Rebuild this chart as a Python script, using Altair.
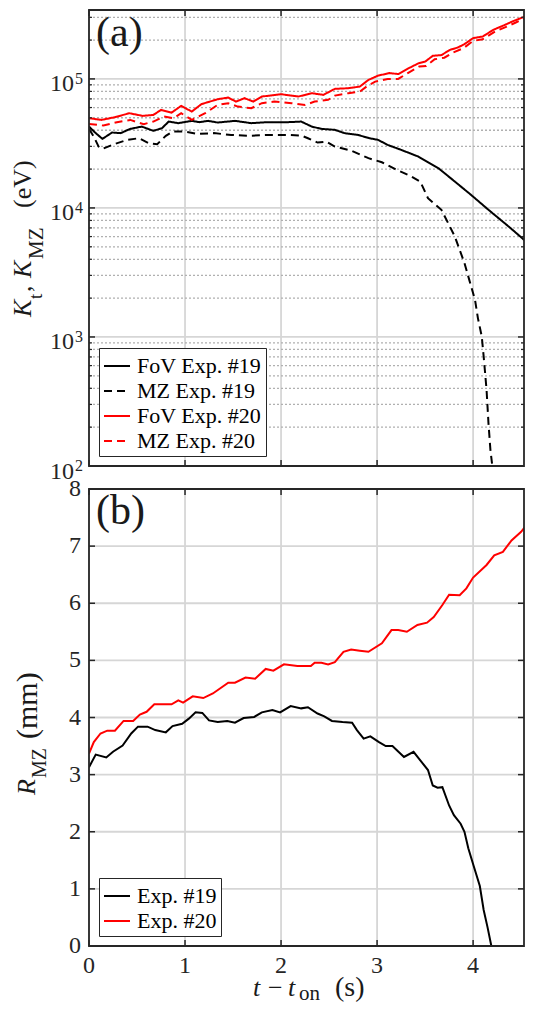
import altair as alt
import pandas as pd

SERIF = "Liberation Serif"
INK = "#262626"
GRID = "#d6d6d6"
MINOR = "#b0b0b0"

# ---------------- panel (a): K_t, K_MZ (eV) ----------------
series_a = ["FoV Exp. #19", "MZ Exp. #19", "FoV Exp. #20", "MZ Exp. #20"]
colors_a = ["#000000", "#000000", "#ff0000", "#ff0000"]
dash_a = [[1, 0], [8, 5], [1, 0], [8, 5]]

fov19_t = [0, 0.07, 0.14, 0.24, 0.33, 0.43, 0.55, 0.67, 0.76, 0.83,
           0.93, 1.07, 1.15, 1.24, 1.34, 1.52, 1.69, 1.86, 2.07, 2.21,
           2.32, 2.42, 2.56, 2.66, 2.80, 2.92, 3.01, 3.11, 3.25, 3.43,
           3.64, 3.81, 3.98, 4.16, 4.37, 4.51, 4.63]
fov19_k = [4.27e4, 3.80e4, 3.43e4, 3.84e4, 3.80e4, 4.10e4, 4.27e4, 3.96e4, 4.15e4, 4.67e4,
           4.54e4, 4.73e4, 4.62e4, 4.73e4, 4.59e4, 4.73e4, 4.54e4, 4.62e4, 4.62e4, 4.67e4,
           4.27e4, 4.10e4, 4.03e4, 3.80e4, 3.68e4, 3.47e4, 3.37e4, 3.08e4, 2.82e4, 2.50e4,
           2.03e4, 1.60e4, 1.26e4, 9.67e3, 7.18e3, 5.84e3, 4.80e3]

mz19_t = [0, 0.05, 0.10, 0.14, 0.26, 0.40, 0.52, 0.62, 0.71, 0.80,
          0.87, 0.99, 1.13, 1.30, 1.48, 1.65, 1.86, 2.07, 2.21, 2.28,
          2.38, 2.47, 2.56, 2.73, 2.91, 3.05, 3.19, 3.36, 3.45, 3.53,
          3.67, 3.74, 3.81, 3.91, 3.96, 4.02, 4.05, 4.09, 4.11, 4.14,
          4.16, 4.18, 4.20, 4.22]
mz19_k = [4.10e4, 3.57e4, 2.99e4, 2.87e4, 3.12e4, 3.37e4, 3.47e4, 3.18e4, 3.12e4, 3.62e4,
          3.91e4, 3.91e4, 3.75e4, 3.80e4, 3.68e4, 3.62e4, 3.68e4, 3.68e4, 3.64e4, 3.47e4,
          3.21e4, 3.27e4, 2.99e4, 2.78e4, 2.43e4, 2.26e4, 2.00e4, 1.75e4, 1.60e4, 1.19e4,
          9.67e3, 7.63e3, 6.00e3, 3.74e3, 2.77e3, 1.94e3, 1.40e3, 1.01e3, 706, 390,
          215, 134, 100, 70]

fov20_t = [0, 0.13, 0.27, 0.42, 0.56, 0.67, 0.75, 0.86, 0.96, 1.07,
           1.17, 1.34, 1.45, 1.53, 1.62, 1.71, 1.80, 2.00, 2.18, 2.32,
           2.44, 2.56, 2.70, 2.82, 2.91, 3.01, 3.13, 3.22, 3.32, 3.43,
           3.50, 3.58, 3.67, 3.76, 3.84, 3.91, 4.00, 4.10, 4.21, 4.33,
           4.43, 4.54, 4.63]
fov20_k = [4.96e4, 4.81e4, 5.05e4, 5.42e4, 5.17e4, 5.26e4, 5.75e4, 5.48e4, 6.18e4, 5.58e4,
           6.37e4, 6.96e4, 7.17e4, 6.67e4, 7.09e4, 6.67e4, 7.30e4, 7.61e4, 7.30e4, 7.75e4,
           7.52e4, 8.37e4, 8.47e4, 8.72e4, 9.82e4, 1.06e5, 1.11e5, 1.09e5, 1.20e5, 1.32e5,
           1.36e5, 1.51e5, 1.53e5, 1.68e5, 1.75e5, 1.86e5, 2.07e5, 2.13e5, 2.40e5, 2.62e5,
           2.83e5, 3.04e5, 3.42e5]

mz20_t = [0, 0.15, 0.29, 0.43, 0.57, 0.67, 0.78, 0.88, 0.96, 1.07,
          1.21, 1.34, 1.45, 1.55, 1.69, 1.80, 1.93, 2.11, 2.25, 2.35,
          2.49, 2.56, 2.70, 2.82, 2.89, 2.98, 3.11, 3.22, 3.32, 3.44,
          3.51, 3.60, 3.70, 3.79, 3.90, 4.00, 4.10, 4.23, 4.35, 4.45,
          4.56, 4.63]
mz20_k = [4.48e4, 4.35e4, 4.62e4, 4.81e4, 4.46e4, 4.67e4, 5.11e4, 4.96e4, 5.42e4, 4.81e4,
          5.42e4, 6.29e4, 6.48e4, 6.10e4, 5.93e4, 6.48e4, 6.67e4, 6.48e4, 6.29e4, 6.67e4,
          6.88e4, 7.42e4, 7.75e4, 7.97e4, 8.72e4, 9.53e4, 1.00e5, 1.00e5, 1.11e5, 1.25e5,
          1.26e5, 1.42e5, 1.46e5, 1.60e5, 1.73e5, 1.97e5, 2.03e5, 2.33e5, 2.54e5, 2.75e5,
          2.98e5, 3.32e5]

# ---------------- panel (b): R_MZ (mm) ----------------
series_b = ["Exp. #19", "Exp. #20"]
colors_b = ["#000000", "#ff0000"]

r19_t = [0, 0.07, 0.18, 0.25, 0.35, 0.44, 0.51, 0.61, 0.69, 0.80,
         0.87, 0.97, 1.04, 1.11, 1.18, 1.25, 1.34, 1.44, 1.52, 1.61,
         1.72, 1.80, 1.91, 1.99, 2.10, 2.21, 2.28, 2.38, 2.45, 2.53,
         2.64, 2.74, 2.79, 2.86, 2.93, 3.02, 3.09, 3.16, 3.28, 3.38,
         3.45, 3.53, 3.58, 3.63, 3.68, 3.75, 3.80, 3.87, 3.91, 3.95,
         4.01, 4.07, 4.11, 4.15, 4.19, 4.63]
r19_r = [3.13, 3.35, 3.30, 3.40, 3.51, 3.72, 3.84, 3.84, 3.78, 3.74,
         3.85, 3.89, 3.98, 4.09, 4.08, 3.95, 3.92, 3.94, 3.91, 3.99,
         4.01, 4.09, 4.13, 4.09, 4.20, 4.16, 4.18, 4.07, 4.02, 3.94,
         3.92, 3.91, 3.78, 3.63, 3.67, 3.57, 3.50, 3.50, 3.31, 3.40,
         3.25, 3.08, 2.81, 2.77, 2.78, 2.46, 2.29, 2.14, 2.00, 1.71,
         1.38, 1.05, 0.63, 0.33, 0.0, 0.0]

r20_t = [0, 0.05, 0.12, 0.19, 0.27, 0.36, 0.46, 0.53, 0.60, 0.68,
         0.86, 0.93, 0.98, 1.08, 1.19, 1.29, 1.45, 1.52, 1.63, 1.73,
         1.84, 1.92, 2.03, 2.17, 2.31, 2.35, 2.42, 2.49, 2.56, 2.65,
         2.73, 2.82, 2.91, 3.05, 3.15, 3.22, 3.31, 3.42, 3.52, 3.59,
         3.68, 3.75, 3.86, 3.93, 4.00, 4.14, 4.22, 4.31, 4.40, 4.50,
         4.57, 4.61, 4.63]
r20_r = [3.37, 3.57, 3.72, 3.77, 3.77, 3.94, 3.94, 4.05, 4.10, 4.23,
         4.23, 4.30, 4.26, 4.37, 4.34, 4.42, 4.61, 4.61, 4.70, 4.68,
         4.85, 4.82, 4.93, 4.90, 4.90, 4.96, 4.96, 4.93, 4.97, 5.15,
         5.19, 5.17, 5.15, 5.30, 5.53, 5.53, 5.50, 5.62, 5.66, 5.76,
         5.97, 6.15, 6.14, 6.26, 6.45, 6.67, 6.84, 6.90, 7.10, 7.25,
         7.40, 7.60, 7.80]

# ---------------- ticks and tick labels ----------------
x_ticks = [0, 1, 2, 3, 4]
x_labels = ["0", "1", "2", "3", "4"]
x_domain = [0, 4.53]
k_major = [1e2, 1e3, 1e4, 1e5]
k_exp = ["2", "3", "4", "5"]
k_minor = [2e2, 3e2, 4e2, 5e2, 6e2, 7e2, 8e2, 9e2,
           2e3, 3e3, 4e3, 5e3, 6e3, 7e3, 8e3, 9e3,
           2e4, 3e4, 4e4, 5e4, 6e4, 7e4, 8e4, 9e4,
           2e5, 3e5]
k_domain = [1e2, 3.42e5]
r_ticks = [0, 1, 2, 3, 4, 5, 6, 7, 8]
r_labels = ["0", "1", "2", "3", "4", "5", "6", "7", "8"]
r_domain = [0, 8]

W = 435
HA = 456
HB = 457

xsc = alt.Scale(domain=x_domain, nice=False, zero=False)
ysc_a = alt.Scale(type="log", domain=k_domain, nice=False)
ysc_b = alt.Scale(domain=r_domain, nice=False, zero=False)

one = pd.DataFrame({"k": [0]})


def long(series, ts, vs, name):
    rows = []
    for s, tt, vv in zip(series, ts, vs):
        rows += [{"series": s, "t": a, name: b} for a, b in zip(tt, vv)]
    return pd.DataFrame(rows)


df_a = long(series_a, [fov19_t, mz19_t, fov20_t, mz20_t],
            [fov19_k, mz19_k, fov20_k, mz20_k], "K")
df_b = long(series_b, [r19_t, r20_t], [r19_r, r20_r], "R")


def legend():
    return alt.Legend(title=None, orient="bottom-left", offset=10,
                      symbolType="stroke", symbolSize=676, symbolStrokeWidth=2,
                      labelFont=SERIF, labelFontSize=22, labelColor="#000000",
                      fillColor="#ffffff", strokeColor=INK, padding=4,
                      rowPadding=0, labelOffset=6, cornerRadius=0, labelLimit=400)


def txt(s, x, y, size, italic=False, angle=0, align="left"):
    kw = dict(text=s, font=SERIF, fontSize=size, color="#1a1a1a",
              align=align, baseline="alphabetic")
    if italic:
        kw["fontStyle"] = "italic"
    if angle:
        kw["angle"] = angle
    return alt.Chart(one).mark_text(**kw).encode(x=alt.value(x), y=alt.value(y))


def vrules(vals, y0, y1, color, width, dash=None):
    kw = dict(color=color, strokeWidth=width)
    if dash:
        kw["strokeDash"] = dash
    return alt.Chart(pd.DataFrame({"t": vals})).mark_rule(**kw).encode(
        x=alt.X("t:Q", scale=xsc, axis=None), y=alt.value(y0), y2=alt.value(y1))


def hrules(vals, sc, x0, x1, color, width, dash=None):
    kw = dict(color=color, strokeWidth=width)
    if dash:
        kw["strokeDash"] = dash
    return alt.Chart(pd.DataFrame({"v": vals})).mark_rule(**kw).encode(
        y=alt.Y("v:Q", scale=sc, axis=None), x=alt.value(x0), x2=alt.value(x1))


def frame(h):
    return alt.Chart(one).mark_rect(filled=False, stroke=INK, strokeWidth=1.8).encode(
        x=alt.value(0), x2=alt.value(W), y=alt.value(0), y2=alt.value(h))


# ---------------- panel (a) ----------------
lines_a = alt.Chart(df_a).mark_line(strokeWidth=2, clip=True).encode(
    x=alt.X("t:Q", scale=xsc, axis=None),
    y=alt.Y("K:Q", scale=ysc_a, axis=None),
    color=alt.Color("series:N", scale=alt.Scale(domain=series_a, range=colors_a),
                    legend=legend()),
    strokeDash=alt.StrokeDash("series:N", scale=alt.Scale(domain=series_a, range=dash_a),
                              legend=legend()),
)

dfk = pd.DataFrame({"v": k_major, "e": k_exp})
lab10 = alt.Chart(dfk).mark_text(text="10", align="right", baseline="alphabetic", dy=12.5,
                                 font=SERIF, fontSize=24, color=INK).encode(
    y=alt.Y("v:Q", scale=ysc_a, axis=None), x=alt.value(-15))
labexp = alt.Chart(dfk).mark_text(align="right", baseline="alphabetic", dy=5,
                                  font=SERIF, fontSize=16, color=INK).encode(
    y=alt.Y("v:Q", scale=ysc_a, axis=None), x=alt.value(-6), text="e:N")

ytitle_a = [
    txt("K", -58, 307, 26, italic=True, angle=270),
    txt("t", -47, 289, 19, angle=270),
    txt(",", -58, 282, 26, angle=270),
    txt("K", -58, 268, 26, italic=True, angle=270),
    txt("MZ", -46.5, 249, 21, angle=270),
    txt("(eV)", -58, 198, 26, angle=270),
]

panel_a = alt.layer(
    vrules(x_ticks, 0, HA, GRID, 1.8),
    hrules(k_major, ysc_a, 0, W, GRID, 1.8),
    hrules(k_minor, ysc_a, 0, W, MINOR, 1.3, [2, 2]),
    lines_a,
    vrules(x_ticks, 0, 6, INK, 1.5), vrules(x_ticks, HA - 6, HA, INK, 1.5),
    hrules(k_major, ysc_a, 0, 6, INK, 1.5), hrules(k_major, ysc_a, W - 6, W, INK, 1.5),
    hrules(k_minor, ysc_a, 0, 3, INK, 1.2), hrules(k_minor, ysc_a, W - 3, W, INK, 1.2),
    frame(HA), lab10, labexp,
    txt("(a)", 7, 36, 42),
    *ytitle_a,
).properties(width=W, height=HA)

# ---------------- panel (b) ----------------
lines_b = alt.Chart(df_b).mark_line(strokeWidth=2, clip=True).encode(
    x=alt.X("t:Q", scale=xsc, axis=None),
    y=alt.Y("R:Q", scale=ysc_b, axis=None),
    color=alt.Color("series:N", scale=alt.Scale(domain=series_b, range=colors_b),
                    legend=legend()),
)

ylab_b = alt.Chart(pd.DataFrame({"v": r_ticks, "lab": r_labels})).mark_text(
    align="right", baseline="middle", font=SERIF, fontSize=24, color=INK).encode(
    y=alt.Y("v:Q", scale=ysc_b, axis=None), x=alt.value(-8), text="lab:N")
xlab_b = alt.Chart(pd.DataFrame({"t": x_ticks, "lab": x_labels})).mark_text(
    align="center", baseline="alphabetic", font=SERIF, fontSize=24, color=INK).encode(
    x=alt.X("t:Q", scale=xsc, axis=None), y=alt.value(HB + 27), text="lab:N")

ytitle_b = [
    txt("R", -54, 306, 26, italic=True, angle=270),
    txt("MZ", -43, 289, 20, angle=270),
    txt("(mm)", -52, 250, 30, angle=270),
]
xtitle_b = [
    txt("t", 164, 507, 26, italic=True),
    txt("\u2212", 179, 507, 26),
    txt("t", 199, 507, 26, italic=True),
    txt("on", 210, 511, 21),
    txt("(s)", 246, 507, 28),
]

panel_b = alt.layer(
    vrules(x_ticks, 0, HB, GRID, 1.8),
    hrules(r_ticks, ysc_b, 0, W, GRID, 1.8),
    lines_b,
    vrules(x_ticks, 0, 6, INK, 1.5), vrules(x_ticks, HB - 6, HB, INK, 1.5),
    hrules(r_ticks, ysc_b, 0, 6, INK, 1.5), hrules(r_ticks, ysc_b, W - 6, W, INK, 1.5),
    frame(HB), ylab_b, xlab_b,
    txt("(b)", 7, 35, 42),
    *ytitle_b, *xtitle_b,
).properties(width=W, height=HB)

chart = alt.vconcat(panel_a, panel_b, spacing=23, bounds="flush").resolve_scale(
    color="independent", strokeDash="independent"
).properties(
    padding={"left": 2, "top": 1, "right": 0, "bottom": 0}
).configure_view(strokeWidth=0)

chart.save("out.html", embed_options={"renderer": "svg", "actions": False})
